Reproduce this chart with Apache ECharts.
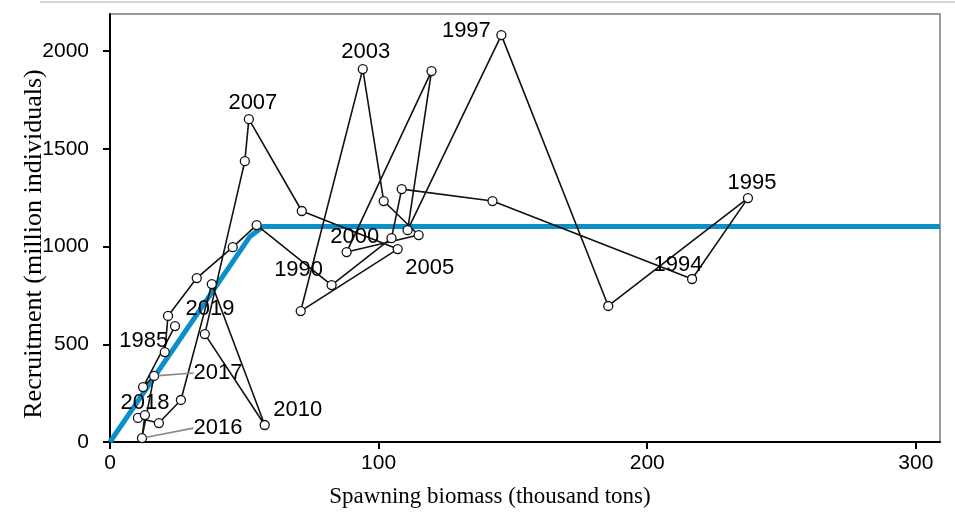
<!DOCTYPE html>
<html>
<head>
<meta charset="utf-8">
<script src="https://cdn.jsdelivr.net/npm/echarts@6/dist/echarts.min.js"></script>
<style>
html,body{margin:0;padding:0;background:#fff;}
#chart{width:955px;height:518px;}
</style>
</head>
<body>
<div id="chart"></div>
<script>
// ---- data ----
const years = [1985,1986,1987,1988,1989,1990,1991,1992,1993,1994,1995,1996,1997,1998,1999,2000,2001,2002,2003,2004,2005,2006,2007,2008,2009,2010,2011,2012,2013,2014,2015,2016,2017,2018,2019];
const spawningBiomass = [20.4,21.6,32.3,45.7,54.6,82.5,104.8,108.6,142.4,216.7,237.5,185.5,145.7,110.8,119.7,88.1,114.9,101.9,94.1,71.0,107.1,71.4,51.7,50.2,35.3,57.6,37.9,26.4,18.2,10.4,13.0,11.9,16.4,12.3,24.2];
const recruitment = [460,645,839,997,1110,803,1043,1294,1233,834,1248,696,2082,1084,1898,972,1059,1233,1908,670,987,1182,1652,1437,552,87,808,215,97,123,138,20,338,281,593];
const curveBiomass = [0, 52, 57, 309];
const curveRecruitment = [0, 1050, 1103, 1103];
const labelledYears = [1985,1990,1994,1995,1997,2000,2003,2005,2007,2010,2018,2019];
const leaderYears = [2016,2017];
const xTicks = {min:0, max:309, interval:100};
const yTicks = {min:0, max:2190, interval:500};

// ---- layout of labels (pixel offsets of label centre from point) ----
const labelOffsets = {
  1985:[-21,-11],1990:[-33,-15],1994:[-14,-14],1995:[4,-15],1997:[-35,-4],
  2000:[8,-15],2003:[3,-17],2005:[32,19],2007:[4,-16],2010:[33,-15],
  2018:[2,16],2019:[35,-17]
};
const leaderOffsets = {2016:[76,-10],2017:[64,-3]};

const labelFont = {fontFamily:'"Liberation Sans", Arial, sans-serif', fontSize:22, color:'#000', textBorderWidth:0};

const pathData = years.map((yr,i)=>{
  const item = {value:[spawningBiomass[i], recruitment[i]], name:String(yr)};
  if (labelledYears.includes(yr)) {
    item.label = Object.assign({show:true, formatter:String(yr), position:'inside', align:'center', verticalAlign:'middle'}, labelFont);
  }
  return item;
});
const leaderData = leaderYears.map(yr=>{
  const i = years.indexOf(yr);
  return {value:[spawningBiomass[i], recruitment[i]], name:String(yr)};
});
const curveData = curveBiomass.map((x,i)=>[x, curveRecruitment[i]]);

const chart = echarts.init(document.getElementById('chart'));
chart.setOption({
  animation:false,
  backgroundColor:'#fff',
  grid:{left:110, right:15, top:14, bottom:76, show:true, borderColor:'#7a7a7a', borderWidth:1.5, backgroundColor:'transparent'},
  xAxis:{type:'value', min:xTicks.min, max:xTicks.max, interval:xTicks.interval,
    axisLine:{show:true, onZero:false, lineStyle:{color:'#000', width:2}},
    axisTick:{show:true, length:7, lineStyle:{color:'#000', width:2}},
    axisLabel:{showMaxLabel:false, margin:11, color:'#000', fontSize:21, fontFamily:'"Liberation Sans", Arial, sans-serif', formatter:v=>String(v)},
    splitLine:{show:false}},
  yAxis:{type:'value', min:yTicks.min, max:yTicks.max, interval:yTicks.interval,
    axisLine:{show:true, onZero:false, lineStyle:{color:'#000', width:2}},
    axisTick:{show:true, length:7, lineStyle:{color:'#000', width:2}},
    axisLabel:{showMaxLabel:false, margin:21, color:'#000', fontSize:21, fontFamily:'"Liberation Sans", Arial, sans-serif', formatter:v=>String(v)},
    splitLine:{show:false}},
  graphic:[
    {type:'line', shape:{x1:40,y1:2,x2:955,y2:2}, style:{stroke:'#d6d6d6', lineWidth:2}, silent:true},
    {type:'text', x:490, y:497, style:{text:'Spawning biomass (thousand tons)', fill:'#000', font:'23px "Liberation Serif", "Times New Roman", serif', textAlign:'center', textVerticalAlign:'middle'}},
    {type:'text', x:34, y:244, rotation:Math.PI/2, style:{text:'Recruitment (million individuals)', fill:'#000', font:'26px "Liberation Serif", "Times New Roman", serif', textAlign:'center', textVerticalAlign:'middle'}}
  ],
  series:[
    {type:'line', data:curveData, showSymbol:false, symbol:'none', z:1,
      lineStyle:{color:'#0a90c8', width:5, join:'round'}, silent:true},
    {type:'line', data:pathData, z:3, symbol:'circle', symbolSize:9, showAllSymbol:true,
      lineStyle:{color:'#111', width:1.6},
      itemStyle:{color:'#fff', borderColor:'#111', borderWidth:1.3},
      label:{show:false},
      labelLayout:function(p){ const o = labelOffsets[years[p.dataIndex]]; return o ? {dx:o[0], dy:o[1], hideOverlap:false} : {}; },
      labelLine:{show:false}},
    {type:'scatter', data:leaderData, z:4, symbol:'circle', symbolSize:9,
      itemStyle:{color:'rgba(255,255,255,0)', borderColor:'rgba(255,255,255,0)', opacity:1},
      label:Object.assign({show:true, position:'inside', align:'center', verticalAlign:'middle', formatter:p=>p.name}, labelFont),
      labelLayout:function(p){ const o = leaderOffsets[leaderData[p.dataIndex].name]; return {dx:o[0], dy:o[1], hideOverlap:false}; },
      labelLine:{show:true, lineStyle:{color:'#8a8a8a', width:1.6}}}
  ]
});
</script>
</body>
</html>
